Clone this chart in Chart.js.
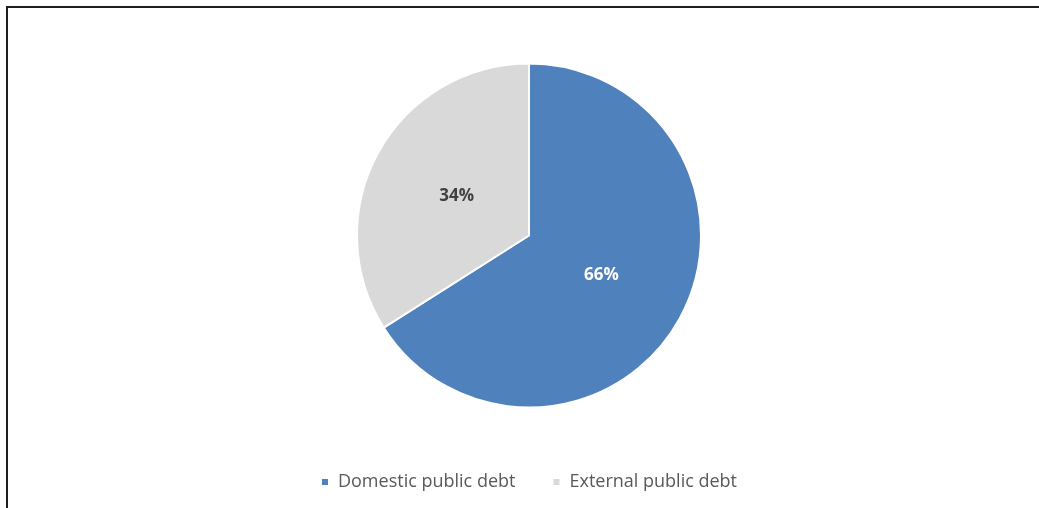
<!DOCTYPE html>
<html>
<head>
<meta charset="utf-8">
<script src="https://cdn.jsdelivr.net/npm/chart.js@4"></script>
<style>
  html, body { margin: 0; padding: 0; background: #fff; overflow: hidden; }
  #frame { position: absolute; left: 6px; top: 6px; width: 1200px; height: 700px;
           border-left: 2px solid #1e1e1e; border-top: 2px solid #1e1e1e; }
  #wrap { position: absolute; left: 0; top: 0; width: 1039px; height: 508px; }
</style>
</head>
<body>
<div id="frame"></div>
<div id="wrap"><canvas id="myChart" width="1039" height="508"></canvas></div>
<script>
// 데이터
const categories = ['Domestic public debt', 'External public debt'];
const shares = [66, 34];
const sliceColors = ['#4f81bd', '#d9d9d9'];
const labelColors = ['#ffffff', '#404040'];

// 조각 가운데에 % 표시
const pctLabels = {
    id: 'pctLabels',
    afterDatasetsDraw(chart) {
        const ctx = chart.ctx;
        const total = shares.reduce((a, b) => a + b, 0);
        chart.getDatasetMeta(0).data.forEach(function(arc, i) {
            const mid = (arc.startAngle + arc.endAngle) / 2;
            const r = arc.outerRadius * 0.48;
            const x = arc.x + Math.cos(mid) * r;
            const y = arc.y + Math.sin(mid) * r;
            ctx.save();
            ctx.font = 'bold 17px "Open Sans"';
            ctx.fillStyle = labelColors[i];
            ctx.textAlign = 'center';
            ctx.textBaseline = 'middle';
            ctx.fillText(Math.round(shares[i] / total * 100) + '%', x, y);
            ctx.restore();
        });
    }
};

var ctx = document.getElementById('myChart').getContext('2d');
var myChart = new Chart(ctx, {
    type: 'pie',
    data: {
        labels: categories,
        datasets: [{
            data: shares,
            backgroundColor: sliceColors,
            borderColor: '#ffffff',
            borderWidth: 2,
            radius: 172
        }]
    },
    options: {
        responsive: false,
        animation: false,
        layout: { padding: { top: 35, left: 19, right: 0, bottom: 7 } },
        plugins: {
            legend: {
                position: 'bottom',
                labels: {
                    boxWidth: 8,
                    boxHeight: 8,
                    padding: 37,
                    color: '#595959',
                    font: { family: '"Open Sans"', size: 18 }
                }
            },
            tooltip: { enabled: false }
        }
    },
    plugins: [pctLabels]
});
</script>
</body>
</html>
